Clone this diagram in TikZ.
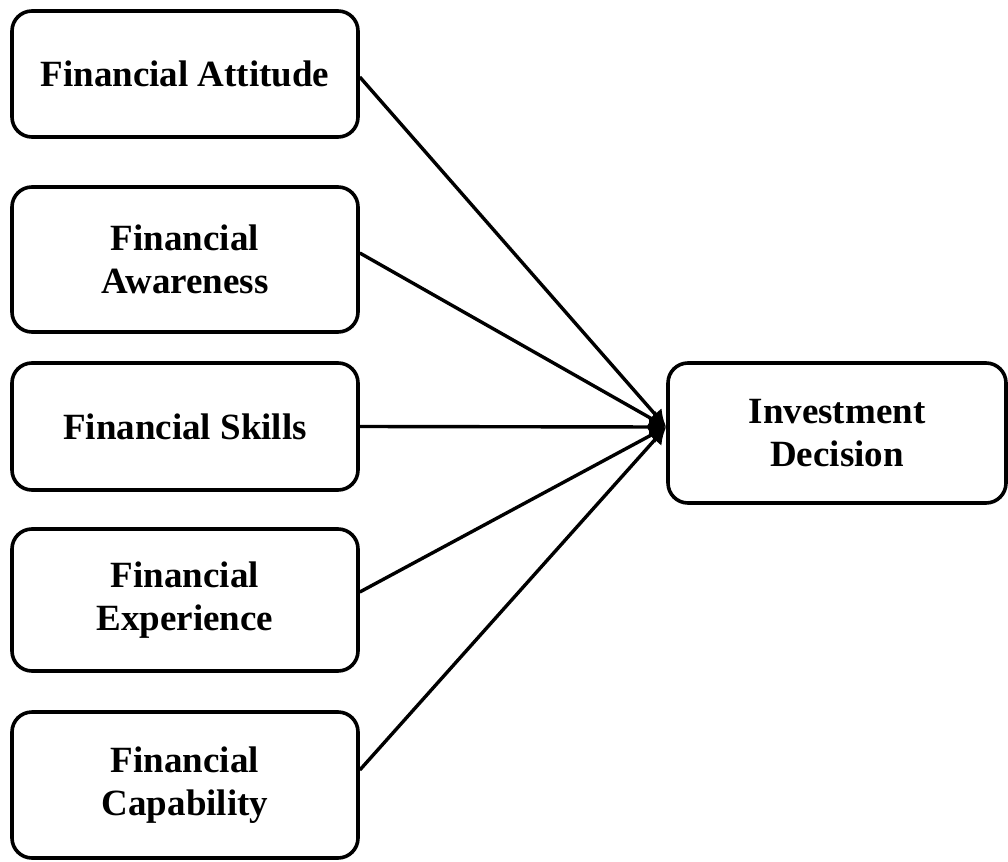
\documentclass[tikz,border=0pt]{standalone}
\usepackage{fontspec}
\setmainfont{Liberation Serif}
\usetikzlibrary{arrows.meta}
\begin{document}
\begin{tikzpicture}[x=1pt,y=-1pt,
  factor/.style={draw=black, line width=3.6pt, rounded corners=20pt, align=center,
    minimum width=346pt, inner sep=0pt,
    font=\fontsize{37}{43}\selectfont\bfseries},
  link/.style={line width=3.4pt, -{Latex[length=17pt,width=18pt]}}]
  \useasboundingbox (0,0) rectangle (1008,861);

  % predictor boxes on the left
  \node[factor, minimum height=126pt] (att) at (185,74) {Financial Attitude};
  \node[factor, minimum height=145pt] (awa) at (185,259.5) {Financial\\Awareness};
  \node[factor, minimum height=127pt] (ski) at (185,426.5) {Financial Skills};
  \node[factor, minimum height=142pt] (exp) at (185,600) {Financial\\Experience};
  \node[factor, minimum height=146pt] (cap) at (185,785) {Financial\\Capability};

  % outcome box on the right
  \node[factor, minimum width=338pt, minimum height=140pt] (dec) at (837,433) {Investment\\Decision};

  % common arrow tip on the outcome box
  \coordinate (tip) at ([yshift=6pt]dec.west);

  \draw[link] ([yshift=-3pt]att.east) -- (tip);
  \draw[link] ([yshift=6.5pt]awa.east) -- (tip);
  \draw[link] (ski.east) -- (tip);
  \draw[link] ([yshift=8pt]exp.east) -- (tip);
  \draw[link] ([yshift=15pt]cap.east) -- (tip);
\end{tikzpicture}
\end{document}
